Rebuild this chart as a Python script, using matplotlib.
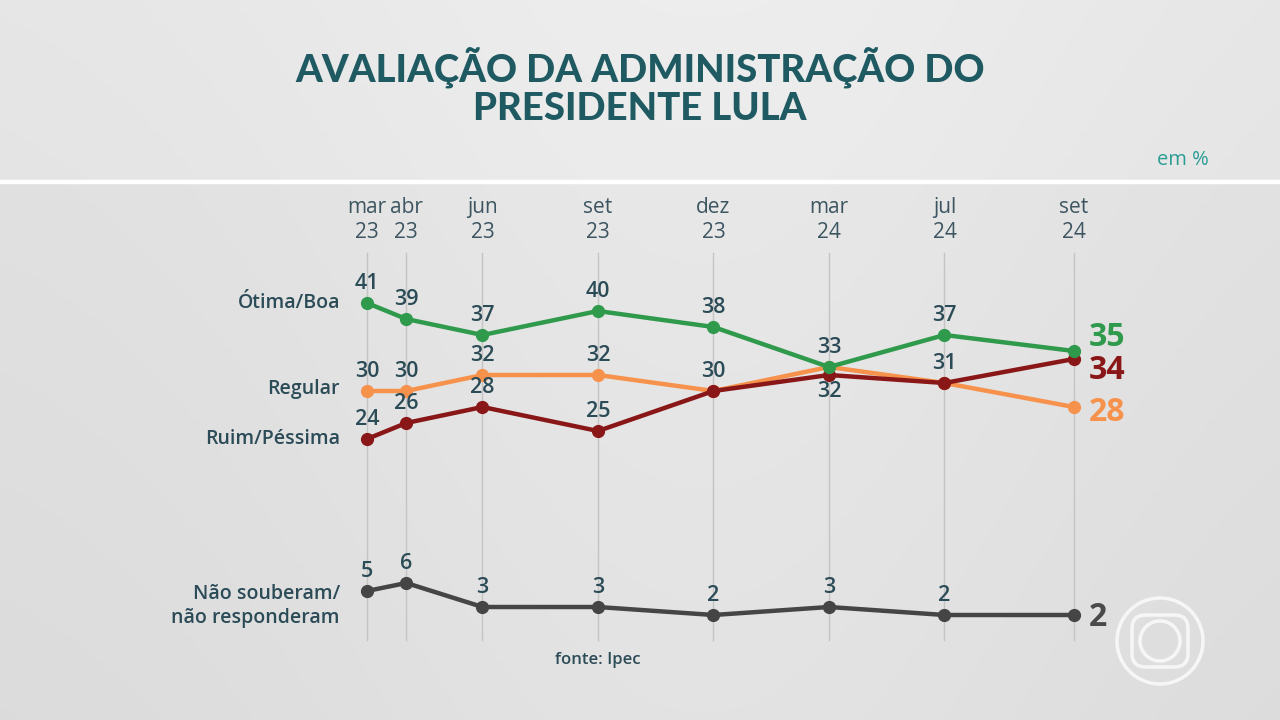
import numpy as np
import matplotlib
matplotlib.use("Agg")
import matplotlib.pyplot as plt
from matplotlib.patches import Ellipse, FancyBboxPatch

# ---------------------------------------------------------------------------
# Data (Ipec, em %)
# ---------------------------------------------------------------------------

months = ["mar\n23", "abr\n23", "jun\n23", "set\n23", "dez\n23", "mar\n24", "jul\n24", "set\n24"]
otima_boa = [41, 39, 37, 40, 38, 33, 37, 35]
regular = [30, 30, 32, 32, 30, 33, 31, 28]
ruim_pessima = [24, 26, 28, 25, 30, 32, 31, 34]
nao_sabem = [5, 6, 3, 3, 2, 3, 2, 2]

series_names = ["Ótima/Boa", "Regular", "Ruim/Péssima", "Não souberam/\nnão responderam"]

# layout: horizontal slot of each survey on the chart (uneven, as in the original)
slot_x = [0.0, 0.34, 1.0, 2.0, 3.0, 4.0, 5.0, 6.12]

GREEN = "#2f9a4c"
ORANGE = "#f7924c"
RED = "#8a1717"
GRAY = "#454545"
TXT = "#2b4b57"
TITLE = "#1f5a62"

FONT = "Open Sans"

fig = plt.figure(figsize=(12.8, 7.2), dpi=100)

# background gradient
bg = fig.add_axes([0, 0, 1, 1], zorder=0)
yy, xx = np.mgrid[0:1:200j, 0:1:320j]
shade = 0.885 + 0.03 * np.exp(-((xx - 0.55) ** 2) / 0.12) - 0.025 * yy
shade[yy < 0.25] += 0.015
img = np.dstack([shade, shade, shade])
bg.imshow(img, extent=[0, 1, 0, 1], aspect="auto", origin="upper")
bg.axhline(1 - 182 / 720, color="white", lw=3.2)
bg.set_xlim(0, 1)
bg.set_ylim(0, 1)
bg.axis("off")

# main axes mapped to the pixel layout of the original
ax = fig.add_axes([0, 0, 1, 1], zorder=1)
ax.patch.set_alpha(0)
ax.set_xlim(-367 / 115.5, (1280 - 367) / 115.5)
ax.set_ylim(-89 / 8, (720 - 89) / 8)
ax.axis("off")

# logo-ish rings, bottom right
lx = (1160 - 367) / 115.5
ly = (720 - 641 - 89) / 8
ax.add_patch(Ellipse((lx, ly), 86 / 115.5, 86 / 8, fill=False, ec="white", lw=2.5, alpha=0.75))
ax.add_patch(Ellipse((lx, ly), 40 / 115.5, 40 / 8, fill=False, ec="white", lw=2.5, alpha=0.75))
ax.add_patch(FancyBboxPatch((lx - 28 / 115.5, ly - 26 / 8), 56 / 115.5, 52 / 8,
                            boxstyle="round,pad=0,rounding_size=0.12", mutation_aspect=14,
                            fill=False, ec="white", lw=2.5, alpha=0.75))

# vertical guides
for x in slot_x:
    ax.plot([x, x], [-1.1, 47.3], color="#c4c4c4", lw=1.0, zorder=1)

# month labels
for x, m in zip(slot_x, months):
    ax.text(x, 51.4, m, ha="center", va="center", fontsize=15, color="#3c5560",
            family=FONT, linespacing=1.28)

# lines
plot_order = [(regular, ORANGE), (ruim_pessima, RED), (otima_boa, GREEN), (nao_sabem, GRAY)]
for vals, col in plot_order:
    ax.plot(slot_x, vals, color=col, lw=3.2, marker="o", ms=8.5, zorder=3,
            solid_capstyle="round")

# value labels (skip last point; it gets a big end label)
def label_points(vals, skip=(), below=()):
    for i, (x, v) in enumerate(zip(slot_x[:-1], vals[:-1])):
        if i in skip:
            continue
        dy = -12 if i in below else 14
        ax.annotate(str(v), (x, v), xytext=(0, dy), textcoords="offset points",
                    ha="center", va="center", fontsize=15.5, color=TXT,
                    family=FONT, fontweight="semibold", zorder=4)

label_points(otima_boa)
label_points(regular, skip=(4, 5, 6))
label_points(ruim_pessima, below=(5,))
label_points(nao_sabem)

# end labels
end_specs = [(otima_boa, GREEN, 10), (ruim_pessima, RED, -8), (regular, ORANGE, -4), (nao_sabem, "#4a4a4a", -2)]
for vals, col, dy in end_specs:
    ax.annotate(str(vals[-1]), (slot_x[-1], vals[-1]), xytext=(11, dy),
                textcoords="offset points", ha="left", va="center", fontsize=23,
                color=col, family=FONT, fontweight="bold", zorder=4)

# series names on the left
name_y = [otima_boa[0], 30.25, 24, 3.1]
for name, yv in zip(series_names, name_y):
    ax.text(-27 / 115.5, yv, name, ha="right", va="center", fontsize=14,
            color=TXT, family=FONT, fontweight="semibold", linespacing=1.3)

# title and notes
fig.text(0.5, 1 - 87 / 720, "AVALIAÇÃO DA ADMINISTRAÇÃO DO\nPRESIDENTE LULA", ha="center",
         va="center", fontsize=27.5, color=TITLE, family="Lato", fontweight="black",
         linespacing=1.1)
fig.text(1183 / 1280, 1 - 160 / 720, "em %", ha="center", va="center", fontsize=14.5,
         color="#2a9d94", family=FONT)
fig.text(598 / 1280, 1 - 660 / 720, "fonte: Ipec", ha="center", va="center", fontsize=12,
         color=TXT, family=FONT, fontweight="semibold")

fig.savefig("out.png", dpi=100)
